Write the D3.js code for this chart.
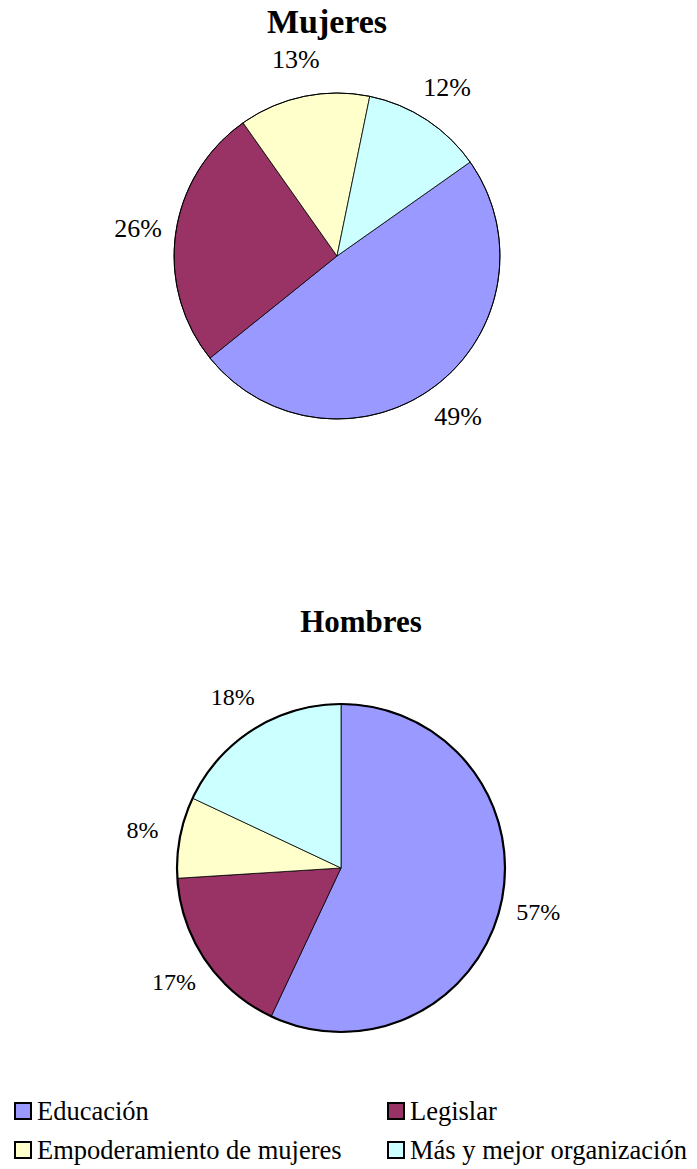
<!DOCTYPE html>
<html>
<head>
<meta charset="utf-8">
<script src="https://cdn.jsdelivr.net/npm/d3@7"></script>
<style>
  body { margin: 0; background: #fff; }
</style>
</head>
<body>
<svg width="697" height="1169"></svg>
<script>
const categories = ["Educación", "Legislar", "Empoderamiento de mujeres", "Más y mejor organización"];
const colors = ["#9999FF", "#993366", "#FFFFCC", "#CCFFFF"];
const mujeres = [49, 26, 13, 12];
const hombres = [57, 17, 8, 18];

const FONT = "'Liberation Serif', 'Times New Roman', Times, 'DejaVu Serif', serif";
const svg = d3.select("svg");

function drawPie(values, title, opts) {
  const g = svg.append("g").attr("transform", `translate(${opts.cx},${opts.cy})`);
  const pie = d3.pie().sort(null)
    .startAngle(opts.start * Math.PI / 180)
    .endAngle(opts.start * Math.PI / 180 + 2 * Math.PI);
  const arcs = pie(values);
  const arc = d3.arc().innerRadius(0).outerRadius(opts.r);
  const labelArc = d3.arc().innerRadius(opts.r + 38).outerRadius(opts.r + 38);

  g.selectAll("path.slice")
    .data(arcs)
    .enter()
    .append("path")
    .attr("class", "slice")
    .attr("d", arc)
    .style("fill", (d, i) => colors[i])
    .style("stroke", "#000")
    .style("stroke-width", 0.8);

  g.append("circle")
    .attr("r", opts.r)
    .style("fill", "none")
    .style("stroke", "#000")
    .style("stroke-width", opts.outline);

  g.selectAll("text.pct")
    .data(arcs)
    .enter()
    .append("text")
    .attr("class", "pct")
    .attr("transform", d => `translate(${labelArc.centroid(d)})`)
    .attr("text-anchor", "middle")
    .attr("dominant-baseline", "central")
    .attr("font-family", FONT)
    .style("font-size", opts.labelSize + "px")
    .text(d => d.data + "%");

  svg.append("text")
    .attr("x", opts.tx)
    .attr("y", opts.ty)
    .attr("text-anchor", "middle")
    .attr("font-family", FONT)
    .style("font-size", opts.titleSize + "px")
    .style("font-weight", "bold")
    .text(title);
}

drawPie(mujeres, "Mujeres", { cx: 337, cy: 256, r: 163, start: 54.8, outline: 1, labelSize: 26, tx: 327, ty: 33, titleSize: 34 });
drawPie(hombres, "Hombres", { cx: 341, cy: 868, r: 164, start: 0, outline: 2.2, labelSize: 24, tx: 361, ty: 632, titleSize: 31 });

// legend
const legendX = [15, 388];
const legendY = [1111, 1150];
categories.forEach((c, i) => {
  const x = legendX[i % 2], y = legendY[Math.floor(i / 2)];
  svg.append("rect")
    .attr("x", x).attr("y", y - 8)
    .attr("width", 16).attr("height", 16)
    .style("fill", colors[i])
    .style("stroke", "#000")
    .style("stroke-width", 2);
  svg.append("text")
    .attr("x", x + 22).attr("y", y)
    .attr("dominant-baseline", "central")
    .attr("font-family", FONT)
    .style("font-size", "26.5px")
    .text(c);
});
</script>
</body>
</html>
